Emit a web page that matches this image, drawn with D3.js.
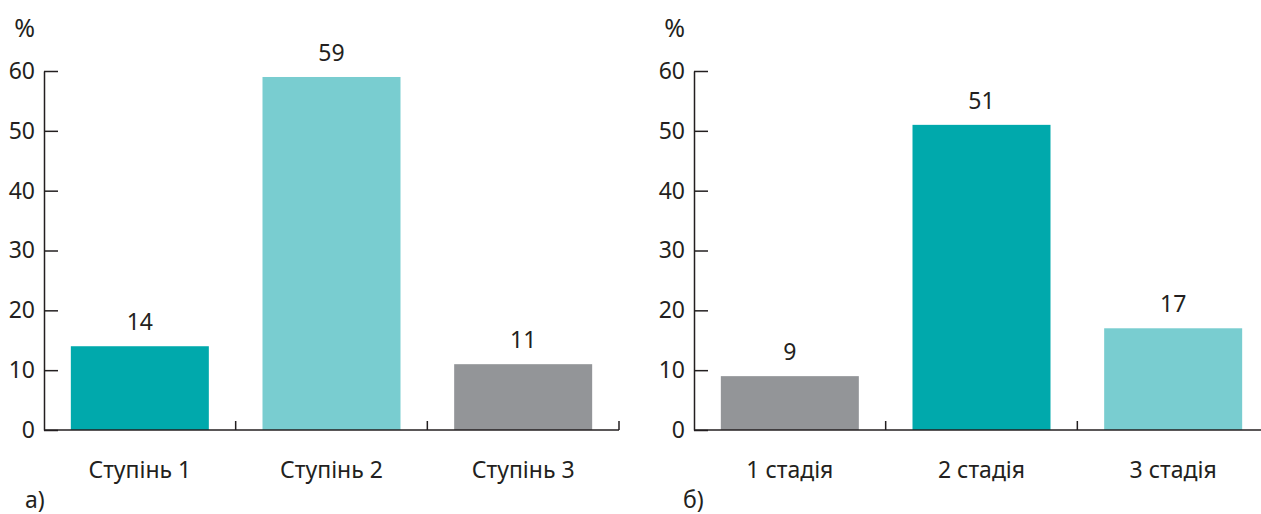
<!DOCTYPE html>
<html>
<head>
<meta charset="utf-8">
<script src="https://cdn.jsdelivr.net/npm/d3@7"></script>
<style>
  html, body { margin: 0; padding: 0; background: #fff; }
  svg text { font-family: "Noto Sans", "Open Sans", sans-serif; fill: #231f20; }
</style>
</head>
<body>
<svg id="chart" width="1261" height="514"></svg>
<script>
// Panel а): severity degree
const degreeCategories = ["Ступінь 1", "Ступінь 2", "Ступінь 3"];
const degreeValues = [14, 59, 11];
const degreeColors = ["#00a9ac", "#79cdd0", "#939598"];

// Panel б): disease stage
const stageCategories = ["1 стадія", "2 стадія", "3 стадія"];
const stageValues = [9, 51, 17];
const stageColors = ["#939598", "#00a9ac", "#79cdd0"];

const yTickValues = [0, 10, 20, 30, 40, 50, 60];
const unitLabel = "%";
const panelTags = ["а)", "б)"];

const svg = d3.select("#chart");
const ink = "#231f20";
const fontStack = '"Noto Sans", "Open Sans", sans-serif';

function drawPanel(opts) {
  const { left, right, categories, values, colors, tag } = opts;
  const g = svg.append("g");

  const x = d3.scaleBand()
    .domain(categories)
    .range([left, right])
    .paddingInner(0.28)
    .paddingOuter(0.14);

  const y = d3.scaleLinear().domain([0, 60]).range([430, 71]);

  // bars
  g.selectAll("rect.bar")
    .data(values)
    .join("rect")
    .attr("class", "bar")
    .attr("x", (d, i) => x(categories[i]))
    .attr("width", x.bandwidth())
    .attr("y", d => y(d))
    .attr("height", d => y(0) - y(d))
    .attr("fill", (d, i) => colors[i]);

  // value labels
  g.selectAll("text.val")
    .data(values)
    .join("text")
    .attr("class", "val")
    .attr("x", (d, i) => x(categories[i]) + x.bandwidth() / 2)
    .attr("y", d => y(d) - 16)
    .attr("text-anchor", "middle")
    .style("font-size", "23px")
    .text(d => d);

  // y axis: ticks point into the plot, labels on the left
  const yAxis = d3.axisLeft(y)
    .tickValues(yTickValues)
    .tickSizeInner(-14)
    .tickSizeOuter(0)
    .tickPadding(9);
  const ax = g.append("g")
    .attr("transform", `translate(${left},0)`)
    .call(yAxis);
  ax.select(".domain").attr("stroke", ink).attr("stroke-width", 1.5);
  ax.selectAll(".tick line").attr("stroke", ink).attr("stroke-width", 1.5);
  ax.selectAll(".tick text")
    .attr("fill", ink)
    .style("font-size", "23px")
    .style("font-family", fontStack);

  // baseline with category separators
  g.append("line")
    .attr("x1", left).attr("x2", right)
    .attr("y1", y(0)).attr("y2", y(0))
    .attr("stroke", ink).attr("stroke-width", 1.5);
  const seps = d3.range(1, categories.length + 1).map(k => left + k * (right - left) / categories.length);
  g.selectAll("line.sep")
    .data(seps)
    .join("line")
    .attr("class", "sep")
    .attr("x1", d => d).attr("x2", d => d)
    .attr("y1", y(0)).attr("y2", y(0) - 9)
    .attr("stroke", ink).attr("stroke-width", 1.5);

  // category labels
  g.selectAll("text.cat")
    .data(categories)
    .join("text")
    .attr("class", "cat")
    .attr("x", d => x(d) + x.bandwidth() / 2)
    .attr("y", 478)
    .attr("text-anchor", "middle")
    .style("font-size", "23px")
    .text(d => d);

  // unit label
  g.append("text")
    .attr("x", left - 9)
    .attr("y", 37)
    .attr("text-anchor", "end")
    .style("font-size", "25px")
    .text(unitLabel);

  // panel tag
  g.append("text")
    .attr("x", opts.tagX)
    .attr("y", 508)
    .style("font-size", "23px")
    .text(tag);
}

drawPanel({ left: 44, right: 619, categories: degreeCategories, values: degreeValues, colors: degreeColors, tag: panelTags[0], tagX: 25 });
drawPanel({ left: 694, right: 1269, categories: stageCategories, values: stageValues, colors: stageColors, tag: panelTags[1], tagX: 683 });
</script>
</body>
</html>
